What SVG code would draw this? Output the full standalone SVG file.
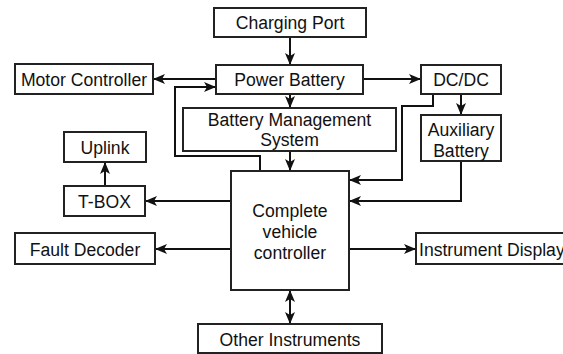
<svg xmlns="http://www.w3.org/2000/svg" width="563" height="354" viewBox="0 0 563 354">
<style>
.n rect{fill:#fff;stroke:#222;stroke-width:2}
text{font-family:"Liberation Sans",Arial,sans-serif;font-size:17.6px;fill:#111;text-anchor:middle}
.c path{fill:none;stroke:#111;stroke-width:2;marker-end:url(#a)}
</style>
<defs>
<marker id="a" viewBox="0 0 12 10" refX="12" refY="5" markerWidth="12" markerHeight="10" markerUnits="userSpaceOnUse" orient="auto-start-reverse">
<path d="M0,0 L12,5 L0,10 L3,5 z" fill="#111"/>
</marker>
</defs>
<rect width="563" height="354" fill="#fff"/>
<g class="c">
<path d="M290,37 V65"/>
<path d="M216,79 H153"/>
<path d="M363,79 H421"/>
<path d="M290,94 V108"/>
<path d="M290,151 V171"/>
<path d="M260,171 V156 H175 V87 H216"/>
<path d="M461,94 V115"/>
<path d="M433,94 V106 H402 V180 H349"/>
<path d="M461,161 V201 H349"/>
<path d="M231,201 H145"/>
<path d="M105,186 V162"/>
<path d="M231,249 H155"/>
<path d="M349,249 H416"/>
<path d="M290,290 V324" style="marker-start:url(#a)"/>
</g>
<g id="charging-port" class="n"><rect x="214" y="8" width="152" height="29"/><text x="290" y="28.5">Charging Port</text></g>
<g id="power-battery" class="n"><rect x="216" y="65" width="147" height="29"/><text x="289.5" y="85.5">Power Battery</text></g>
<g id="motor-controller" class="n"><rect x="15" y="64" width="138" height="30"/><text x="84" y="85.5">Motor Controller</text></g>
<g id="dcdc" class="n"><rect x="421" y="65" width="80" height="29"/><text x="461" y="85.5">DC/DC</text></g>
<g id="bms" class="n"><rect x="183" y="108" width="213" height="43"/><text x="289.5" y="125.5">Battery Management</text><text x="289.5" y="145.5">System</text></g>
<g id="auxiliary-battery" class="n"><rect x="421" y="115" width="80" height="46"/><text x="461" y="135.5">Auxiliary</text><text x="461" y="156.5">Battery</text></g>
<g id="uplink" class="n"><rect x="64" y="132" width="82" height="30"/><text x="105" y="153.5">Uplink</text></g>
<g id="t-box" class="n"><rect x="64" y="186" width="81" height="30"/><text x="104.5" y="207.5">T-BOX</text></g>
<g id="vehicle-controller" class="n"><rect x="231" y="171" width="118" height="119"/><text x="290" y="216.5">Complete</text><text x="290" y="237.5">vehicle</text><text x="290" y="258.5">controller</text></g>
<g id="fault-decoder" class="n"><rect x="15" y="233" width="140" height="31"/><text x="85" y="255.5">Fault Decoder</text></g>
<g id="instrument-display" class="n"><rect x="416" y="233" width="160" height="31"/><text x="419" y="255.5" style="text-anchor:start">Instrument Display</text></g>
<g id="other-instruments" class="n"><rect x="198" y="324" width="184" height="29"/><text x="290" y="345.5">Other Instruments</text></g>
</svg>
